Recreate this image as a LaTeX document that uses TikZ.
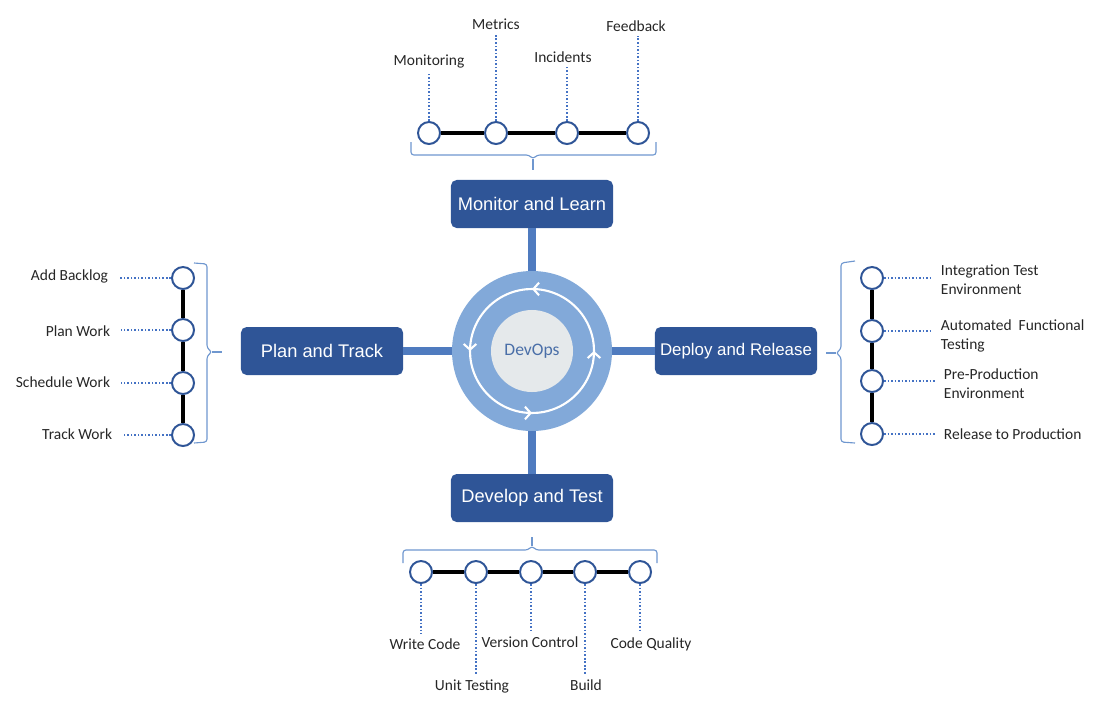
\documentclass[tikz,border=0pt]{standalone}
\usepackage{fontspec}
\setmainfont{Carlito}
\newfontfamily\boxfont{Liberation Sans}
\usetikzlibrary{positioning,calc,arrows.meta,decorations.markings}

\definecolor{boxblue}{HTML}{2F5597}
\definecolor{barblue}{HTML}{4F7BBF}
\definecolor{ringblue}{HTML}{82A9D9}
\definecolor{coregray}{HTML}{E5E9EB}
\definecolor{devblue}{HTML}{4A6FA8}
\definecolor{dotblue}{HTML}{4472C4}
\definecolor{braceblue}{HTML}{6F97CF}
\definecolor{labelgray}{HTML}{262626}

\begin{document}
\begin{tikzpicture}[x=0.025cm, y=-0.025cm,
  phase/.style={fill=boxblue, text=white, rounded corners=4pt, minimum width=4.05cm, minimum height=1.2cm, inner xsep=2pt, font=\boxfont\fontsize{13}{15}\selectfont},
  stepdot/.style={circle, draw=boxblue, fill=white, line width=1.4pt, minimum size=0.55cm, inner sep=0pt},
  link/.style={line width=2.8pt, black},
  spoke/.style={line width=5.7pt, barblue},
  lead/.style={line width=1.2pt, dotblue, dash pattern=on 1.2pt off 1.3pt},
  bracket/.style={line width=0.8pt, braceblue, rounded corners=2pt},
  lbl/.style={font=\fontsize{11}{13.5}\selectfont, text=labelgray}]

\useasboundingbox (0,0) rectangle (1108,704);

% hub in the middle
\node[circle, fill=ringblue, minimum size=4cm, inner sep=0pt] (hub) at (532,351) {};
\node[circle, fill=coregray, minimum size=2.05cm, inner sep=0pt, text=devblue,
      font=\fontsize{12.5}{14}\selectfont] (core) at (hub) {DevOps};
\draw[white, line width=1.5pt, postaction={decorate},
      decoration={markings, mark=between positions 0.125 and 0.875 step 0.25
        with {\arrow{Straight Barb[length=4pt, width=9pt, line width=1.5pt]}}}]
  (hub.center) ++(-45:62) arc[start angle=-45, end angle=-405, radius=62];

% the four phases
\node[phase] (monitor) at (532,204) {Monitor and Learn};
\node[phase] (plan)    at (322,351) {Plan and Track};
\node[phase, font=\boxfont\fontsize{12}{15}\selectfont] (deploy) at (736,351) {Deploy and Release};
\node[phase] (develop) at (532,498) {Develop and Test};
\foreach \p in {monitor,plan,deploy,develop}{\draw[spoke] (\p) -- (hub);}

% monitor and learn
\foreach \x [count=\i] in {429,496,567,638}{\node[stepdot] (mon\i) at (\x,133) {};}
\draw[link] (mon1) -- (mon2) -- (mon3) -- (mon4);
\node[lbl] (monlbl1) at (429,62) {Monitoring};
\node[lbl] (monlbl2) at (496,24) {Metrics};
\node[lbl] (monlbl3) at (563,57) {Incidents};
\node[lbl] (monlbl4) at (636,26) {Feedback};
\foreach \i in {1,...,4}{\draw[lead] (mon\i) -- (mon\i |- monlbl\i.south);}
\draw[bracket] (411,142) -- (411,155) -- (529,155) -- (533,159) -- (537,155) -- (656,155) -- (656,142);
\draw[bracket] (533,159) -- (533,170);

% plan and track
\foreach \y [count=\i] in {278,330,383,435}{\node[stepdot] (pln\i) at (183,\y) {};}
\draw[link] (pln1) -- (pln2) -- (pln3) -- (pln4);
\node[lbl, anchor=east] (plnlbl1) at (113,276) {Add Backlog};
\node[lbl, anchor=east] (plnlbl2) at (115,331) {Plan Work};
\node[lbl, anchor=east] (plnlbl3) at (115,382) {Schedule Work};
\node[lbl, anchor=east] (plnlbl4) at (117,434) {Track Work};
\foreach \i in {1,...,4}{\draw[lead, shorten >=4pt] (pln\i) -- (pln\i -| plnlbl\i.east);}
\draw[bracket] (194,263) -- (207,264) -- (207,348) -- (212,352) -- (207,356) -- (207,442) -- (194,443);
\draw[bracket] (212,352) -- (222,352);

% deploy and release
\foreach \y [count=\i] in {278,331,381,434}{\node[stepdot] (dep\i) at (872,\y) {};}
\draw[link] (dep1) -- (dep2) -- (dep3) -- (dep4);
\node[lbl, anchor=west, align=left] (deplbl1) at (936,280) {Integration Test\\Environment};
\node[lbl, anchor=west, align=left] (deplbl2) at (936,336) {Automated\ \ Functional\\Testing};
\node[lbl, anchor=west, align=left] (deplbl3) at (939,384) {Pre-Production\\Environment};
\node[lbl, anchor=west] (deplbl4) at (939,434) {Release to Production};
\foreach \i in {1,...,4}{\draw[lead, shorten >=2pt] (dep\i) -- (deplbl\i.west |- dep\i);}
\draw[bracket] (855,261) -- (841,263) -- (841,349) -- (836,353) -- (841,357) -- (841,442) -- (855,443);
\draw[bracket] (836,353) -- (826,353);

% develop and test
\foreach \x [count=\i] in {421,476,531,585,640}{\node[stepdot] (dev\i) at (\x,572) {};}
\draw[link] (dev1) -- (dev2) -- (dev3) -- (dev4) -- (dev5);
\node[lbl] (devlbl1) at (425,644) {Write Code};
\node[lbl] (devlbl2) at (472,686) {Unit Testing};
\node[lbl] (devlbl3) at (530,642) {Version Control};
\node[lbl] (devlbl4) at (586,685) {Build};
\node[lbl] (devlbl5) at (651,644) {Code Quality};
\foreach \i in {1,...,5}{\draw[lead] (dev\i) -- (dev\i |- devlbl\i.north);}
\draw[bracket] (403,563) -- (403,550) -- (528,550) -- (532,546) -- (536,550) -- (657,550) -- (657,563);
\draw[bracket] (532,546) -- (532,537);
\end{tikzpicture}
\end{document}
